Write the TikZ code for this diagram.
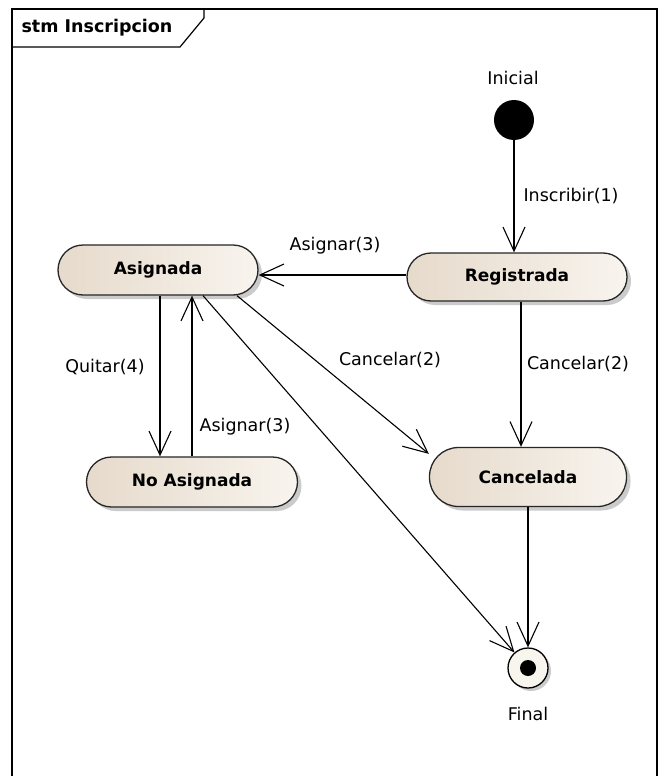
\documentclass[tikz,border=0pt]{standalone}
\usepackage{fontspec}
\setmainfont{DejaVu Sans}
\usetikzlibrary{arrows.meta,shadows,calc}
\definecolor{boxl}{HTML}{E6DACB}
\definecolor{boxr}{HTML}{F8F4EE}
\begin{document}
\begin{tikzpicture}[x=1pt,y=-1pt,
  state/.style={draw=black!85, line width=1.3pt, inner sep=0pt,
    left color=boxl, right color=boxr,
    font=\fontsize{17}{19}\selectfont\bfseries,
    drop shadow={shadow xshift=4pt,shadow yshift=-4pt,fill=black!40,opacity=0.5}},
  lbl/.style={font=\fontsize{17.5}{19}\selectfont, inner sep=1pt},
  arr/.style={line width=1.1pt, -{Straight Barb[length=24pt,width=22pt,line width=1.1pt]}}]
\fill[white] (0,0) rectangle (664,776);
\useasboundingbox (0,0) rectangle (664,776);
% frame
\draw[line width=1.2pt] (12,778) -- (12,9) -- (657,9) -- (657,778);
\draw[line width=1.2pt] (12,47) -- (180,47) -- (204,18) -- (204,9);
\node[font=\fontsize{17.5}{19}\selectfont\bfseries] (title) at (97,28) {stm Inscripcion};
% states
\node[state, minimum width=200pt, minimum height=50pt, rounded corners=25pt] (asg) at (158,270) {Asignada};
\node[state, minimum width=220pt, minimum height=48pt, rounded corners=24pt] (reg) at (517,277) {Registrada};
\node[state, minimum width=211pt, minimum height=50pt, rounded corners=25pt] (noasg) at (192,482) {No Asignada};
\node[state, minimum width=197pt, minimum height=59pt, rounded corners=29pt] (canc) at (528,477) {Cancelada};
% initial and final
\node[circle, fill=black, minimum size=40pt, inner sep=0pt] (ini) at (514,120) {};
\node[lbl] (inilbl) at (513,78) {Inicial};
\node[circle, draw=black, line width=1.3pt, fill=boxr, minimum size=40pt, inner sep=0pt,
  drop shadow={shadow xshift=3pt,shadow yshift=-3pt,fill=black!40,opacity=0.5}] (fin) at (528,668) {};
\node[circle, fill=black, minimum size=16pt, inner sep=0pt] (findot) at (fin) {};
\node[lbl] (finlbl) at (528,714) {Final};
% transitions
\draw[arr] (ini) -- (ini |- reg.north) node[lbl, pos=0.5, right=8pt] (t1) {Inscribir(1)};
\draw[arr] (reg.west |- 0,275) -- (asg.east |- 0,275);
\node[lbl] (t2) at (335,246) {Asignar(3)};
\draw[arr] ([xshift=4pt]reg.south) -- ([xshift=4pt]reg.south |- canc.north);
\node[lbl] (t3) at (578,364) {Cancelar(2)};
\draw[arr] ([xshift=2pt]asg.south) -- ([xshift=2pt]asg.south |- noasg.north);
\node[lbl] (t4) at (105,367) {Quitar(4)};
\draw[arr] ([xshift=34pt]asg.south |- noasg.north) -- ([xshift=34pt]asg.south);
\node[lbl] (t5) at (245,427) {Asignar(3)};
\draw[arr] ([xshift=79pt]asg.south) -- ([yshift=-7pt]canc.north west);
\node[lbl] (t6) at (390,360) {Cancelar(2)};
\draw[arr] ([xshift=45pt]asg.south) -- (fin);
\draw[arr] (canc.south) -- (fin.north);
\end{tikzpicture}
\end{document}
